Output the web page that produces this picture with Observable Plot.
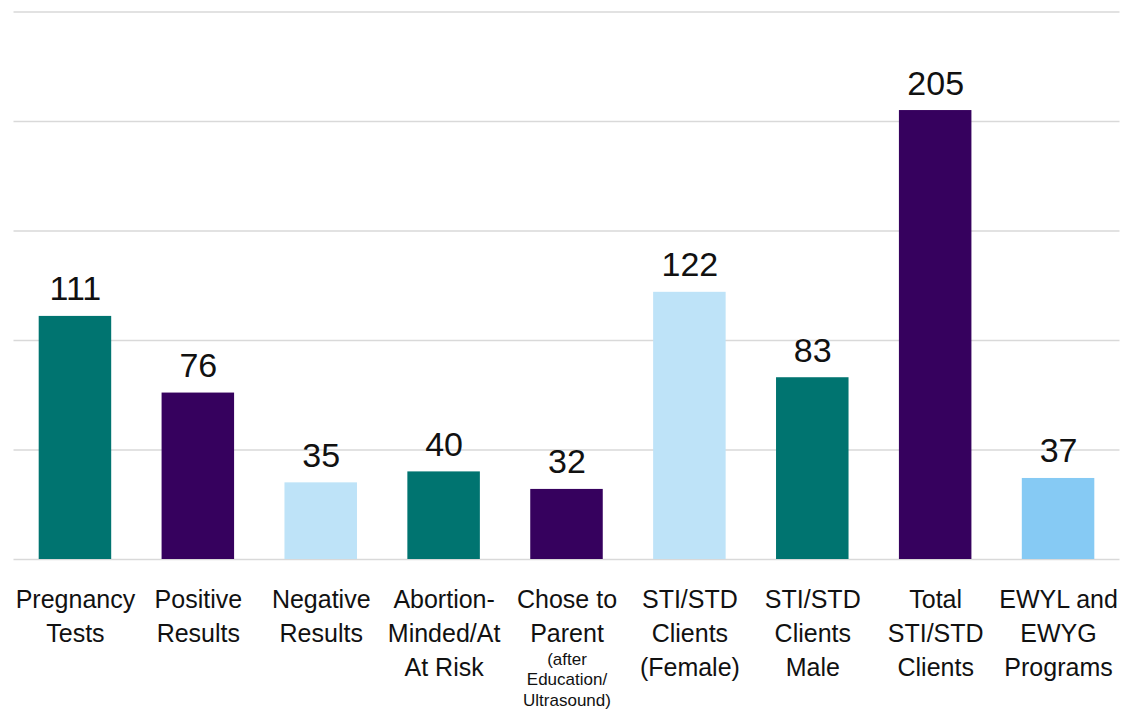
<!DOCTYPE html>
<html><head><meta charset="utf-8">
<script src="https://cdn.jsdelivr.net/npm/d3@7"></script>
<script src="https://cdn.jsdelivr.net/npm/@observablehq/plot@0.6"></script>
<style>html,body{margin:0;padding:0;background:#ffffff;}</style>
</head><body><div id="chart"></div>
<script>
const categories = ["Pregnancy\nTests", "Positive\nResults", "Negative\nResults", "Abortion-\nMinded/At\nAt Risk", "Chose to\nParent", "STI/STD\nClients\n(Female)", "STI/STD\nClients\nMale", "Total\nSTI/STD\nClients", "EWYL and\nEWYG\nPrograms"];
const values = [111, 76, 35, 40, 32, 122, 83, 205, 37];
const notes = ["", "", "", "", "(after\nEducation/\nUltrasound)", "", "", "", ""];
const groups = ["teal", "purple", "light", "teal", "purple", "light", "teal", "purple", "sky"];
const yTicks = [0, 50, 100, 150, 200, 250];

const data = categories.map((c, i) => ({cat: c, value: values[i], note: notes[i], group: groups[i]}));
const font = "'Liberation Sans', Arial, sans-serif";

const chart = Plot.plot({
  width: 1122,
  height: 712,
  marginLeft: 13.5,
  marginRight: 2.5,
  marginTop: 11.5,
  marginBottom: 153,
  style: {background: "#ffffff", fontFamily: font},
  x: {domain: categories, paddingInner: 0.41, paddingOuter: 0.205, round: false, axis: null},
  y: {domain: [0, 250], axis: null},
  color: {domain: ["teal", "purple", "light", "sky"], range: ["#007470", "#36015e", "#bee3f8", "#86caf4"]},
  marks: [
    Plot.ruleY(yTicks, {stroke: "#d9d9d9", strokeWidth: 1.5}),
    Plot.barY(data, {x: "cat", y: "value", fill: "group"}),
    Plot.text(data, {x: "cat", y: "value", text: d => String(d.value), lineAnchor: "bottom", dy: -16, fontSize: 34, fill: "#111", fontFamily: font}),
    Plot.text(data, {x: "cat", frameAnchor: "bottom", text: "cat", lineAnchor: "top", dy: 24, fontSize: 25, lineHeight: 1.36, fill: "#111", fontFamily: font}),
    Plot.text(data.filter(d => d.note), {x: "cat", frameAnchor: "bottom", text: "note", lineAnchor: "top", dy: 91, fontSize: 17, lineHeight: 1.2, fill: "#111", fontFamily: font})
  ]
});
document.getElementById("chart").appendChild(chart);
</script>
</body></html>
